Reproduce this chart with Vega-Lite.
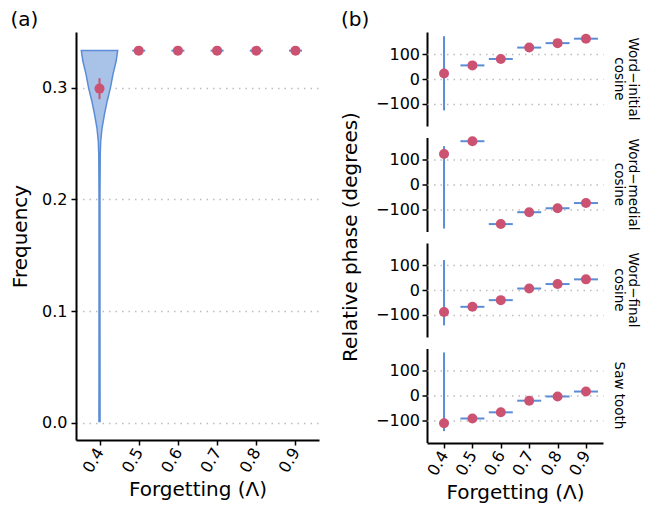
{
  "$schema": "https://vega.github.io/schema/vega-lite/v6.json",
  "padding": {"left": 10, "top": 10, "right": 2, "bottom": 2},
  "spacing": 21,
  "config": {
    "font": "DejaVu Sans",
    "view": {"stroke": null},
    "axis": {
      "domainColor": "black", "domainWidth": 2, "tickColor": "black", "tickWidth": 1.5, "tickSize": 5,
      "labelFontSize": 16, "labelColor": "black", "labelPadding": 2.5,
      "titleFontSize": 20, "titleFontWeight": "normal", "titleColor": "black",
      "gridColor": "#bdbdbd", "gridDash": [1.5, 5], "gridWidth": 1.5
    },
    "axisX": {"grid": false, "labelAngle": -60, "labelAlign": "right", "labelBaseline": "middle", "labelPadding": 4},
    "title": {"fontSize": 20, "fontWeight": "normal", "anchor": "start", "frame": "bounds", "color": "black", "offset": 2}
  },
  "hconcat": [
    {
      "title": {"text": "(a)"},
      "width": 243,
      "height": 408,
      "layer": [
        {
          "data": {"values": [
            {"freq": 0.001, "dens": 0.03},
            {"freq": 0.01, "dens": 0.03},
            {"freq": 0.1, "dens": 0.025},
            {"freq": 0.2, "dens": 0.025},
            {"freq": 0.24, "dens": 0.04},
            {"freq": 0.252, "dens": 0.065},
            {"freq": 0.264, "dens": 0.14},
            {"freq": 0.276, "dens": 0.27},
            {"freq": 0.288, "dens": 0.42},
            {"freq": 0.3, "dens": 0.6},
            {"freq": 0.312, "dens": 0.74},
            {"freq": 0.324, "dens": 0.915},
            {"freq": 0.3335, "dens": 1.0}
          ]},
          "mark": {"type": "area", "orient": "horizontal", "fill": "#a9c2e7", "fillOpacity": 1, "stroke": "#5b8dd6", "strokeWidth": 1.5},
          "encoding": {
            "x": {"field": "dens", "type": "quantitative", "stack": "center", "impute": null, "scale": {"domain": [-0.1456, 6.53], "nice": false, "zero": false}, "axis": null},
            "y": {"field": "freq", "type": "quantitative", "scale": {"domain": [-0.0155, 0.35], "nice": false, "zero": false}, "axis": {"values": [0, 0.1, 0.2, 0.3], "format": ".1f", "title": "Frequency", "grid": true, "labelPadding": 4, "titlePadding": 11}}
          }
        },
        {
          "data": {"values": [
            {"lambda": 0.4, "freq": 0.2993, "lo": 0.2898, "hi": 0.3086},
            {"lambda": 0.5, "freq": 0.3333, "lo": 0.3333, "hi": 0.3333},
            {"lambda": 0.6, "freq": 0.3333, "lo": 0.3333, "hi": 0.3333},
            {"lambda": 0.7, "freq": 0.3333, "lo": 0.3333, "hi": 0.3333},
            {"lambda": 0.8, "freq": 0.3333, "lo": 0.3333, "hi": 0.3333},
            {"lambda": 0.9, "freq": 0.3333, "lo": 0.3333, "hi": 0.3333}
          ]},
          "encoding": {
            "x": {"field": "lambda", "type": "quantitative", "scale": {"domain": [0.34, 0.96], "nice": false, "zero": false}, "axis": {"values": [0.4, 0.5, 0.6, 0.7, 0.8, 0.9], "format": ".1f", "title": "Forgetting (Λ)"}}
          },
          "layer": [
            {
              "transform": [{"filter": "datum.lambda > 0.45"}],
              "mark": {"type": "tick", "orient": "horizontal", "size": 13, "thickness": 2, "color": "#5b8dd6", "opacity": 1},
              "encoding": {"y": {"field": "freq", "type": "quantitative"}}
            },
            {
              "mark": {"type": "rule", "color": "#cc5272", "strokeWidth": 2},
              "encoding": {"y": {"field": "lo", "type": "quantitative"}, "y2": {"field": "hi"}}
            },
            {
              "mark": {"type": "circle", "size": 100, "color": "#cc5272", "opacity": 1},
              "encoding": {"y": {"field": "freq", "type": "quantitative"}}
            }
          ]
        }
      ],
      "resolve": {"scale": {"x": "independent"}}
    },
    {
      "title": {"text": "(b)"},
      "data": {"values": [
        {"panel": "Word−initial|cosine", "lambda": 0.4, "phase": 22, "lo": -127, "hi": 173},
        {"panel": "Word−initial|cosine", "lambda": 0.5, "phase": 55},
        {"panel": "Word−initial|cosine", "lambda": 0.6, "phase": 81},
        {"panel": "Word−initial|cosine", "lambda": 0.7, "phase": 127},
        {"panel": "Word−initial|cosine", "lambda": 0.8, "phase": 145},
        {"panel": "Word−initial|cosine", "lambda": 0.9, "phase": 163},
        {"panel": "Word−medial|cosine", "lambda": 0.4, "phase": 123, "lo": -178, "hi": 155},
        {"panel": "Word−medial|cosine", "lambda": 0.5, "phase": 175},
        {"panel": "Word−medial|cosine", "lambda": 0.6, "phase": -160},
        {"panel": "Word−medial|cosine", "lambda": 0.7, "phase": -112},
        {"panel": "Word−medial|cosine", "lambda": 0.8, "phase": -96},
        {"panel": "Word−medial|cosine", "lambda": 0.9, "phase": -75},
        {"panel": "Word−final|cosine", "lambda": 0.4, "phase": -89, "lo": -143, "hi": 121},
        {"panel": "Word−final|cosine", "lambda": 0.5, "phase": -68},
        {"panel": "Word−final|cosine", "lambda": 0.6, "phase": -41},
        {"panel": "Word−final|cosine", "lambda": 0.7, "phase": 6},
        {"panel": "Word−final|cosine", "lambda": 0.8, "phase": 24},
        {"panel": "Word−final|cosine", "lambda": 0.9, "phase": 43},
        {"panel": "Saw tooth", "lambda": 0.4, "phase": -112, "lo": -144, "hi": 174},
        {"panel": "Saw tooth", "lambda": 0.5, "phase": -93},
        {"panel": "Saw tooth", "lambda": 0.6, "phase": -68},
        {"panel": "Saw tooth", "lambda": 0.7, "phase": -21},
        {"panel": "Saw tooth", "lambda": 0.8, "phase": -4},
        {"panel": "Saw tooth", "lambda": 0.9, "phase": 16}
      ]},
      "facet": {
        "row": {
          "field": "panel", "type": "nominal",
          "sort": ["Word−initial|cosine", "Word−medial|cosine", "Word−final|cosine", "Saw tooth"],
          "header": {
            "title": "Relative phase (degrees)", "titleOrient": "left", "titleFontSize": 20, "titleFontWeight": "normal", "titleColor": "black", "titlePadding": 4,
            "labelOrient": "right", "labelAngle": 90, "labelFontSize": 13.5, "labelColor": "black", "labelPadding": 9,
            "labelExpr": "split(datum.value, '|')", "labelLineHeight": 14
          }
        }
      },
      "spacing": 9.5,
      "spec": {
        "width": 176,
        "height": 94,
        "encoding": {
          "x": {"field": "lambda", "type": "quantitative", "scale": {"domain": [0.34, 0.96], "nice": false, "zero": false}, "axis": {"values": [0.4, 0.5, 0.6, 0.7, 0.8, 0.9], "format": ".1f", "title": "Forgetting (Λ)"}}
        },
        "layer": [
          {
            "transform": [{"filter": "datum.lambda < 0.45"}],
            "mark": {"type": "rule", "color": "#5b8dd6", "strokeWidth": 2},
            "encoding": {
              "y": {"field": "lo", "type": "quantitative", "scale": {"domain": [-190, 190], "nice": false, "zero": false}, "axis": {"values": [-100, 0, 100], "title": null, "grid": true}},
              "y2": {"field": "hi"}
            }
          },
          {
            "transform": [{"filter": "datum.lambda > 0.45"}],
            "mark": {"type": "tick", "orient": "horizontal", "size": 24, "thickness": 2, "color": "#5b8dd6", "opacity": 1},
            "encoding": {"y": {"field": "phase", "type": "quantitative"}}
          },
          {
            "mark": {"type": "circle", "size": 100, "color": "#cc5272", "opacity": 1},
            "encoding": {"y": {"field": "phase", "type": "quantitative"}}
          }
        ]
      }
    }
  ]
}
